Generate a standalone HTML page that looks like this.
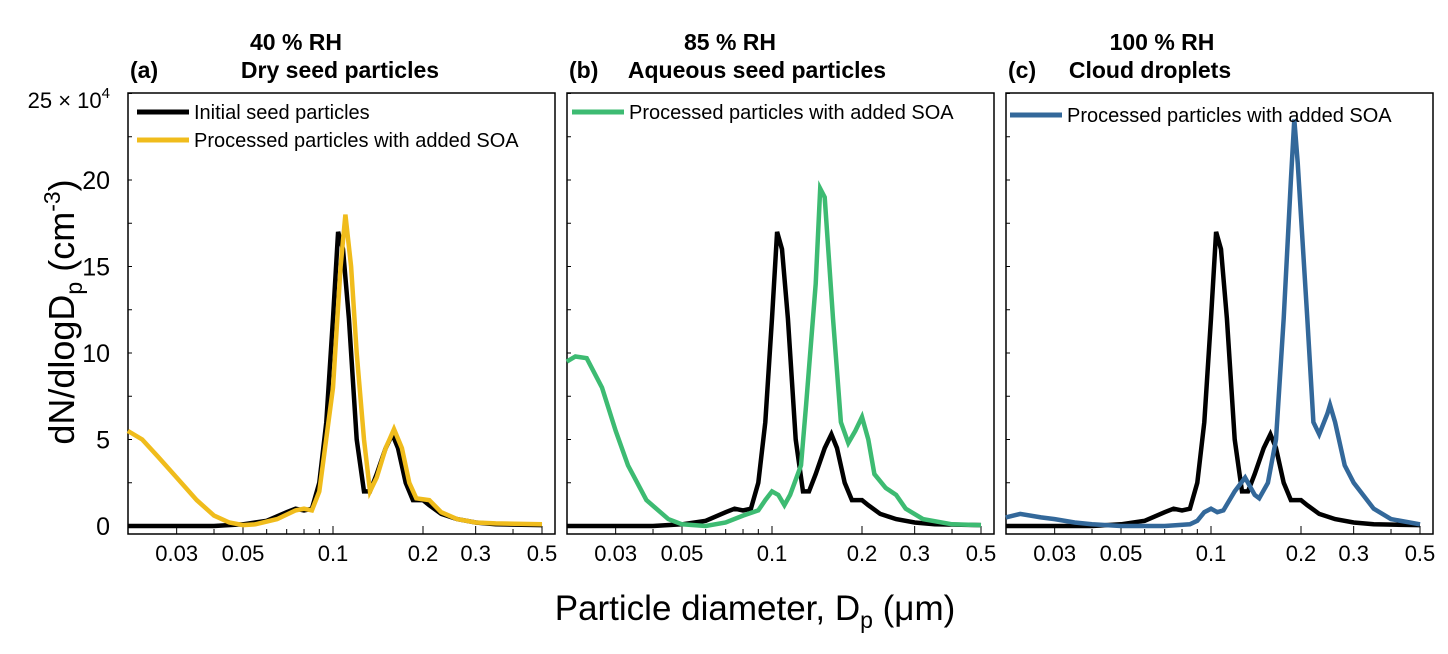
<!DOCTYPE html>
<html><head><meta charset="utf-8"><style>
body{margin:0;background:#fff;}
svg{display:block;font-family:"Liberation Sans",Arial,sans-serif;}
</style></head><body>
<svg id="chart" width="1448" height="654" viewBox="0 0 1448 654" xmlns="http://www.w3.org/2000/svg">
<text transform="translate(74,312) rotate(-90)" text-anchor="middle" font-size="36">dN/dlogD<tspan font-size="23" dy="8">p</tspan><tspan dy="-8"> (cm</tspan><tspan font-size="23" dy="-14">-3</tspan><tspan dy="14">)</tspan></text>
<text x="755" y="620" text-anchor="middle" font-size="35">Particle diameter, D<tspan font-size="23" dy="8">p</tspan><tspan dy="-8"> (μm)</tspan></text>
</svg>
<script>
const panelOffsets=[0,439,878];
const yTicks=[0,5,10,15,20];
const xTickVals=[0.03,0.05,0.1,0.2,0.3,0.5];
const xTickLabels=["0.03","0.05","0.1","0.2","0.3","0.5"];
const minorX=[0.03,0.04,0.05,0.06,0.07,0.08,0.09,0.1,0.2,0.3,0.4,0.5];
const blackD=[0.0206,0.03,0.04,0.05,0.06,0.07,0.075,0.08,0.085,0.09,0.095,0.1,0.104,0.108,0.113,0.12,0.127,0.133,0.14,0.15,0.158,0.165,0.175,0.185,0.2,0.21,0.23,0.26,0.3,0.35,0.5];
const blackV=[0,0,0,0.1,0.3,0.8,1.0,0.9,1.0,2.5,6,12,17,16,12,5,2.0,2.0,3,4.5,5.3,4.5,2.5,1.5,1.5,1.2,0.7,0.4,0.2,0.1,0.05];
const yellowD=[0.0206,0.023,0.026,0.03,0.035,0.04,0.045,0.05,0.055,0.065,0.075,0.08,0.085,0.09,0.1,0.106,0.11,0.115,0.12,0.127,0.133,0.14,0.15,0.16,0.17,0.18,0.19,0.21,0.23,0.26,0.3,0.35,0.5];
const yellowV=[5.5,5.0,4,2.8,1.5,0.6,0.2,0.05,0.1,0.4,0.9,1.0,0.9,2,8,15,18,15,10,5,2,2.8,4.5,5.6,4.5,2.5,1.6,1.5,0.8,0.4,0.2,0.15,0.1];
const greenD=[0.0206,0.022,0.024,0.027,0.03,0.033,0.038,0.045,0.05,0.06,0.07,0.08,0.09,0.095,0.1,0.105,0.11,0.115,0.125,0.13,0.14,0.145,0.15,0.16,0.17,0.18,0.19,0.2,0.21,0.22,0.24,0.26,0.28,0.32,0.4,0.5];
const greenV=[9.5,9.8,9.7,8,5.5,3.5,1.5,0.4,0.1,0,0.2,0.6,0.9,1.5,2.0,1.8,1.2,1.8,3.5,7,14,19.5,19,12,6,4.8,5.5,6.3,5,3,2.2,1.8,1,0.4,0.1,0.05];
const blueD=[0.0206,0.023,0.027,0.03,0.035,0.04,0.05,0.07,0.085,0.09,0.095,0.1,0.105,0.11,0.12,0.13,0.14,0.145,0.155,0.165,0.175,0.185,0.19,0.195,0.21,0.22,0.23,0.245,0.25,0.26,0.28,0.3,0.35,0.4,0.5];
const blueV=[0.5,0.7,0.5,0.4,0.2,0.1,0,0,0.1,0.3,0.8,1.0,0.8,0.9,2.0,2.8,1.8,1.6,2.5,5,12,20,23.5,21,12,6,5.3,6.5,7,6,3.5,2.5,1,0.4,0.1];

const svg=document.getElementById('chart');
const NS='http://www.w3.org/2000/svg';
const L=128,R=555,T=93,B=534;
function xs(d,o){return 333+o+Math.log10(d/0.1)*299;}
function ys(v){return 526-v*17.3;}
function mk(tag,attrs,parent){const e=document.createElementNS(NS,tag);for(const k in attrs)e.setAttribute(k,attrs[k]);(parent||svg).appendChild(e);return e;}
function txt(s,attrs){const e=mk('text',attrs);e.textContent=s;return e;}

const titles=[["40 % RH","(a)","Dry seed particles",296,340],["85 % RH","(b)","Aqueous seed particles",730,757],["100 % RH","(c)","Cloud droplets",1162,1150]];
const series=[[[blackD,blackV,'#000'],[yellowD,yellowV,'#f0bc1c']],[[blackD,blackV,'#000'],[greenD,greenV,'#3dbb72']],[[blackD,blackV,'#000'],[blueD,blueV,'#33689a']]];

panelOffsets.forEach((o,i)=>{
  const g=mk('g',{});
  
  
  let t=txt(titles[i][0],{x:titles[i][3],y:50,'text-anchor':'middle','font-size':23,'font-weight':'bold'});
  
  t=txt(titles[i][1],{x:L+o+2,y:78,'font-size':23,'font-weight':'bold'});
  
  t=txt(titles[i][2],{x:titles[i][4],y:78,'text-anchor':'middle','font-size':23,'font-weight':'bold'});
  
  const r=mk('rect',{x:L+o,y:T,width:R-L,height:B-T,fill:'none',stroke:'#000','stroke-width':1.5},g);
  
  for(let v=0;v<=25;v+=2.5){mk('line',{x1:L+o,x2:L+o+4,y1:ys(v),y2:ys(v),stroke:'#000','stroke-width':1},g);}
  minorX.forEach(d=>{const big=xTickVals.indexOf(d)>=0;mk('line',{x1:xs(d,o),x2:xs(d,o),y1:B,y2:B-(big?8:5),stroke:'#000','stroke-width':1},g);});
  xTickVals.forEach((d,k)=>{const e=txt(xTickLabels[k],{x:xs(d,o),y:561,'text-anchor':'middle','font-size':22});
    });
  series[i].forEach((s,k)=>{
    const pts=s[0].map((d,j)=>xs(d,o).toFixed(1)+','+ys(s[1][j]).toFixed(1)).join(' ');
    const p=mk('polyline',{points:pts,fill:'none',stroke:s[2],'stroke-width':4.5,'stroke-linejoin':'miter'},g);
    
    
  });
});
yTicks.forEach(v=>{const e=txt(String(v),{x:110,y:ys(v)+9,'text-anchor':'end','font-size':25});
  });
const yt=txt('',{x:110,y:108,'text-anchor':'end','font-size':22});

yt.innerHTML='25 × 10<tspan font-size="15" dy="-10">4</tspan>';

const legends=[[137,112,'#000','Initial seed particles'],[137,140,'#f0bc1c','Processed particles with added SOA'],[572,112,'#3dbb72','Processed particles with added SOA'],[1010,115,'#33689a','Processed particles with added SOA']];
legends.forEach(l=>{
  const ln=mk('line',{x1:l[0],x2:l[0]+52,y1:l[1],y2:l[1],stroke:l[2],'stroke-width':5});
  
  const e=txt(l[3],{x:l[0]+57,y:l[1]+7,'font-size':20});
  
});
</script>
</body></html>
